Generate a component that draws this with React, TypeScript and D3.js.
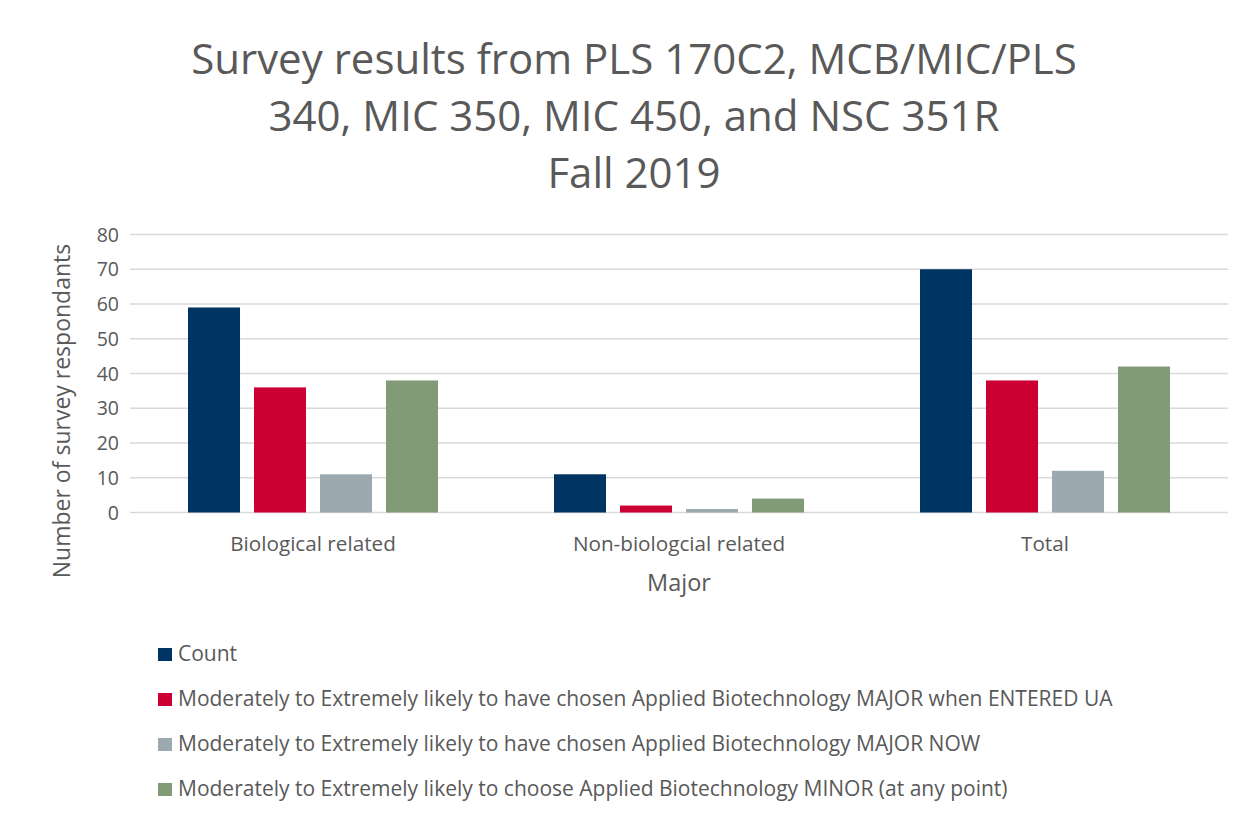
import React from "react";
import * as d3 from "d3";

const titleLines = [
  "Survey results from PLS 170C2, MCB/MIC/PLS",
  "340, MIC 350, MIC 450, and NSC 351R",
  "Fall 2019",
];
const categories = ["Biological related", "Non-biologcial related", "Total"];
const seriesNames = [
  "Count",
  "Moderately to Extremely likely to have chosen Applied Biotechnology MAJOR when ENTERED UA",
  "Moderately to Extremely likely to have chosen Applied Biotechnology MAJOR NOW",
  "Moderately to Extremely likely to choose Applied Biotechnology MINOR (at any point)",
];
const countValues = [59, 11, 70];
const enteredValues = [36, 2, 38];
const nowValues = [11, 1, 12];
const minorValues = [38, 4, 42];
const seriesColors = ["#003462", "#CC0033", "#9DA9B0", "#819B77"];
const yTicks = [0, 10, 20, 30, 40, 50, 60, 70, 80];
const yAxisTitle = "Number of survey respondants";
const xAxisTitle = "Major";

const W = 1241;
const H = 817;
const font = "'Open Sans', sans-serif";
const textColor = "#595959";

export default function App() {
  const seriesValues = [countValues, enteredValues, nowValues, minorValues];
  const left = 130;
  const right = 1228;
  const top = 234.5;
  const bottom = 512.5;

  const y = d3.scaleLinear().domain([0, 80]).range([bottom, top]);
  const x0 = d3.scaleBand<string>().domain(categories).range([left, right]).padding(0);
  const x1 = d3
    .scaleBand<number>()
    .domain(d3.range(seriesNames.length))
    .range([0, x0.bandwidth()])
    .paddingInner(0.212)
    .paddingOuter(0.879);

  return (
    <svg
      width={W}
      height={H}
      style={{ position: "absolute", left: 0, top: 0, background: "#fff" }}
      fontFamily={font}
    >
      <rect x={0} y={0} width={W} height={H} fill="#fff" />
      {titleLines.map((t, i) => (
        <text
          key={i}
          x={634}
          y={74 + i * 57}
          textAnchor="middle"
          fontSize={42}
          fill={textColor}
        >
          {t}
        </text>
      ))}
      {yTicks.map((t) => (
        <g key={t}>
          <line x1={left} x2={right} y1={y(t)} y2={y(t)} stroke="#D9D9D9" strokeWidth={1.5} />
          <text x={119} y={y(t) + 7} textAnchor="end" fontSize={19.5} fill={textColor}>
            {t}
          </text>
        </g>
      ))}
      {categories.map((c, ci) => (
        <g key={c}>
          {seriesValues.map((vals, si) => (
            <rect
              key={si}
              x={(x0(c) as number) + (x1(si) as number)}
              y={y(vals[ci])}
              width={x1.bandwidth()}
              height={bottom - y(vals[ci])}
              fill={seriesColors[si]}
            />
          ))}
          <text
            x={(x0(c) as number) + x0.bandwidth() / 2}
            y={551}
            textAnchor="middle"
            fontSize={20.7}
            fill={textColor}
          >
            {c}
          </text>
        </g>
      ))}
      <text
        x={(left + right) / 2}
        y={591}
        textAnchor="middle"
        fontSize={23.5}
        fill={textColor}
      >
        {xAxisTitle}
      </text>
      <text
        transform={`translate(70, 411) rotate(-90)`}
        textAnchor="middle"
        fontSize={23}
        fill={textColor}
      >
        {yAxisTitle}
      </text>
      {seriesNames.map((s, i) => (
        <g key={s}>
          <rect x={158} y={648 + i * 45} width={14} height={13} fill={seriesColors[i]} />
          <text x={178} y={661 + i * 45} fontSize={21} fill={textColor}>
            {s}
          </text>
        </g>
      ))}
    </svg>
  );
}
